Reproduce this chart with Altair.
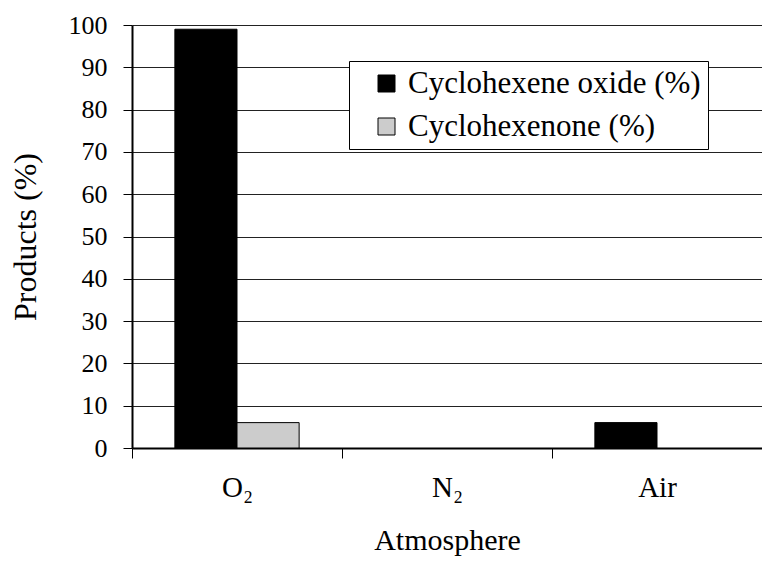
import altair as alt
import pandas as pd

atmospheres = ["O₂", "N₂", "Air"]
products = ["Cyclohexene oxide (%)", "Cyclohexenone (%)"]
oxide_values = [99, 0, 6]
enone_values = [6, 0, 0]
y_ticks = [0, 10, 20, 30, 40, 50, 60, 70, 80, 90, 100]

rows = []
for a, v in zip(atmospheres, oxide_values):
    rows.append({"Atmosphere": a, "Product": products[0], "Value": v})
for a, v in zip(atmospheres, enone_values):
    rows.append({"Atmosphere": a, "Product": products[1], "Value": v})
df = pd.DataFrame(rows)

FONT = "Liberation Serif"

chart = alt.Chart(df).mark_bar(stroke="black").encode(
    x=alt.X(
        "Atmosphere:N",
        sort=atmospheres,
        scale=alt.Scale(paddingInner=0, paddingOuter=0),
        axis=alt.Axis(
            title="Atmosphere",
            labelAngle=0,
            tickBand="extent",
            labelFont=FONT,
            labelFontSize=29,
            labelColor="black",
            labelPadding=15,
            labelBaseline="top",
            tickSize=10,
            tickColor="black",
            domainColor="black",
            domainWidth=2,
            titleFont=FONT,
            titleFontSize=30,
            titleFontWeight="normal",
            titleColor="black",
            titlePadding=23,
            grid=False,
        ),
    ),
    xOffset=alt.XOffset(
        "Product:N",
        sort=products,
        scale=alt.Scale(paddingInner=0, paddingOuter=0.69),
    ),
    y=alt.Y(
        "Value:Q",
        scale=alt.Scale(domain=[0, 100], nice=False),
        axis=alt.Axis(
            title="Products (%)",
            values=y_ticks,
            labelFont=FONT,
            labelFontSize=26,
            labelColor="black",
            labelPadding=16,
            tickSize=9,
            tickColor="black",
            domainColor="black",
            domainWidth=2,
            gridColor="#222222",
            gridWidth=1,
            titleFont=FONT,
            titleFontSize=32,
            titleFontWeight="normal",
            titleColor="black",
            titlePadding=26,
        ),
    ),
    strokeWidth=alt.condition("datum.Value > 0", alt.value(1), alt.value(0)),
    color=alt.Color(
        "Product:N",
        sort=products,
        scale=alt.Scale(domain=products, range=["#000000", "#cccccc"]),
        legend=alt.Legend(
            title=None,
            orient="none",
            legendX=217,
            legendY=36,
            strokeColor="black",
            fillColor="white",
            padding=7,
            rowPadding=11,
            symbolType="square",
            symbolSize=289,
            symbolStrokeColor="black",
            symbolStrokeWidth=1,
            symbolOffset=15,
            labelOffset=6,
            labelLimit=500,
            labelFont=FONT,
            labelFontSize=31,
            labelColor="black",
        ),
    ),
).properties(
    width=630,
    height=423,
    autosize=alt.AutoSizeParams(type="none"),
    padding={"left": 124, "top": 17, "right": 0, "bottom": 110},
).configure_view(
    strokeWidth=0,
)

chart.save("out.html", embed_options={"renderer": "svg", "actions": False})
